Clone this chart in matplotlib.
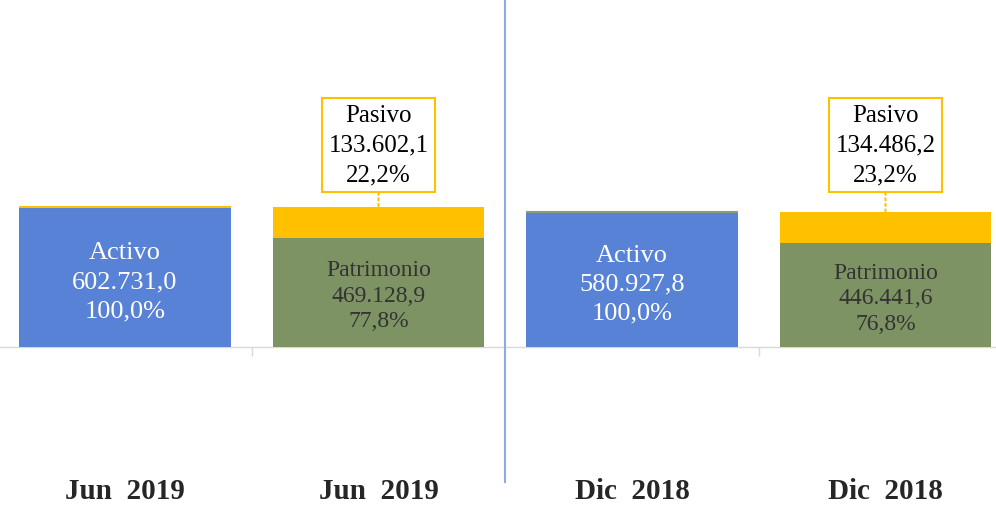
import numpy as np
import matplotlib.pyplot as plt

plt.rcParams['font.family'] = ['Liberation Serif', 'DejaVu Serif']

# datos (miles)
categorias = ['Jun  2019', 'Jun  2019', 'Dic  2018', 'Dic  2018']
activo = [602731.0, 580927.8]
activo_pct = [100.0, 100.0]
patrimonio = [469128.9, 446441.6]
patrimonio_pct = [77.8, 76.8]
pasivo = [133602.1, 134486.2]
pasivo_pct = [22.2, 23.2]

AZUL = '#5882D6'
VERDE = '#7D9363'
NARANJA = '#FFC000'
GRIS = '#D9D9D9'


def fmt(v):
    s = f"{v:,.1f}"
    return s.replace(',', 'X').replace('.', ',').replace('X', '.')


def fmt_pct(p):
    return f"{p:.1f}".replace('.', ',') + '%'


fig = plt.figure(figsize=(9.96, 5.06), dpi=100)
ax = fig.add_axes([0, 0, 1, 1])
ax.set_xlim(-0.493, 3.436)
ax.set_ylim(-680000, 1498000)
ax.axis('off')

x_act = np.array([0, 2])
x_pp = np.array([1, 3])
ancho = 0.836

ax.bar(x_act, activo, width=ancho, color=AZUL, zorder=2)
ax.bar(x_pp, patrimonio, width=ancho, color=VERDE, zorder=2)
ax.bar(x_pp, pasivo, bottom=patrimonio, width=ancho, color=NARANJA, zorder=2)

# bordes superiores finos en las barras de activo
for x, v, c in zip(x_act, activo, [NARANJA, '#8E9A80']):
    ax.hlines(v, x - ancho / 2, x + ancho / 2, color=c, lw=1.5, zorder=3)

# eje horizontal y marcas
ax.axhline(0, color=GRIS, lw=1, zorder=1)
for t in [0.5, 2.5]:
    ax.vlines(t, -38000, 0, color=GRIS, lw=1)

# separador vertical
ax.axvline(1.5, ymin=0.045, ymax=1, color='#8FAADC', lw=1.5)

for x, v, p in zip(x_act, activo, activo_pct):
    ax.annotate(f"Activo\n{fmt(v)}\n{fmt_pct(p)}", xy=(x, v / 2), xytext=(0, -3),
                textcoords='offset points', ha='center', va='center',
                color='white', fontsize=19, linespacing=1.42, zorder=4)

for x, v, p in zip(x_pp, patrimonio, patrimonio_pct):
    ax.annotate(f"Patrimonio\n{fmt(v)}\n{fmt_pct(p)}", xy=(x, v / 2), xytext=(0, -2),
                textcoords='offset points', ha='center', va='center',
                color='#333333', fontsize=17, linespacing=1.27, zorder=4)

for x, b, v, p in zip(x_pp, patrimonio, pasivo, pasivo_pct):
    ax.annotate(f"Pasivo\n{fmt(v)}\n{fmt_pct(p)}", xy=(x, b + v), xytext=(x, 870000),
                textcoords='data', ha='center', va='center',
                fontsize=18, linespacing=1.45, color='black', zorder=5,
                bbox=dict(boxstyle='square,pad=0.26', fc='white', ec=NARANJA, lw=1.5),
                arrowprops=dict(arrowstyle='-', color=NARANJA, ls=':', lw=1.5,
                                shrinkA=0, shrinkB=0))

for i, c in enumerate(categorias):
    ax.text(i, 0.028, c, transform=ax.get_xaxis_transform(), ha='center', va='center',
            fontsize=21, fontweight='bold', color='#262626')

fig.savefig('out.png', dpi=100)
